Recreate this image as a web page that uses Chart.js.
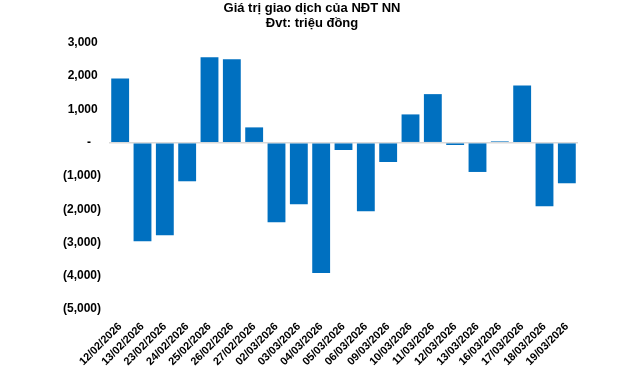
<!DOCTYPE html>
<html>
<head>
<meta charset="utf-8">
<script src="https://cdn.jsdelivr.net/npm/chart.js@4"></script>
<style>
  body { margin: 0; background: #fff; }
  #wrap { width: 640px; height: 368px; }
</style>
</head>
<body>
<div id="wrap"><canvas id="netChart" width="640" height="368"></canvas></div>
<script>
// Giá trị giao dịch ròng của NĐT NN (triệu đồng)
const dates = [
  "12/02/2026", "13/02/2026", "23/02/2026", "24/02/2026", "25/02/2026",
  "26/02/2026", "27/02/2026", "02/03/2026", "03/03/2026", "04/03/2026",
  "05/03/2026", "06/03/2026", "09/03/2026", "10/03/2026", "11/03/2026",
  "12/03/2026", "13/03/2026", "16/03/2026", "17/03/2026", "18/03/2026",
  "19/03/2026"
];
const netValues = [
  1930, -2960, -2780, -1160, 2570, 2510, 460, -2390, -1850, -3920,
  -220, -2060, -580, 850, 1460, -70, -880, 40, 1720, -1910, -1220
];
const titleLines = ["Giá trị giao dịch của NĐT NN", "Đvt: triệu đồng"];
const yMin = -5000;
const yMax = 3000;
const yStep = 1000;

// kiểu định dạng accounting của Excel
function fmtAccounting(v) {
  if (v === 0) return "-   ";
  const s = Math.abs(v).toLocaleString("en-US");
  return v < 0 ? "(" + s + ")" : s + " ";
}

const ctx = document.getElementById("netChart").getContext("2d");
new Chart(ctx, {
  type: "bar",
  data: {
    labels: dates,
    datasets: [
      {
        label: "NĐT NN",
        data: netValues,
        backgroundColor: "#0070C0",
        borderWidth: 0,
        barPercentage: 0.8,
        categoryPercentage: 1.0,
      },
    ],
  },
  options: {
    responsive: false,
    animation: false,
    layout: { padding: { left: 0, right: 16, top: 0, bottom: 0 } },
    plugins: {
      legend: { display: false },
      tooltip: { enabled: false },
      title: {
        display: true,
        text: titleLines,
        color: "#000",
        font: { family: "'Liberation Sans', Arial, sans-serif", size: 13, weight: "bold", lineHeight: 1.15 },
        padding: { top: 1, bottom: 12 },
      },
    },
    scales: {
      x: {
        grid: { display: false },
        border: { display: false },
        ticks: {
          color: "#000",
          font: { family: "'Liberation Sans', Arial, sans-serif", size: 11, weight: "bold" },
          minRotation: 45,
          maxRotation: 45,
          autoSkip: false,
          padding: 3,
        },
        afterFit: (scale) => { scale.height = 59; },
      },
      y: {
        min: yMin,
        max: yMax,
        border: { display: false },
        grid: {
          drawTicks: false,
          lineWidth: 1.5,
          color: (c) => (c.tick && c.tick.value === 0 ? "#d9d9d9" : "rgba(0,0,0,0)"),
        },
        ticks: {
          stepSize: yStep,
          color: "#000",
          font: { family: "'Liberation Sans', Arial, sans-serif", size: 12, weight: "bold" },
          padding: 8,
          callback: (v) => fmtAccounting(v),
        },
        afterFit: (scale) => { scale.width = 109; },
      },
      yRight: {
        position: "right",
        display: true,
        grid: { display: false },
        border: { display: false },
        ticks: { display: false },
        afterFit: (scale) => { scale.width = 46; },
      },
    },
  },
});
</script>
</body>
</html>
